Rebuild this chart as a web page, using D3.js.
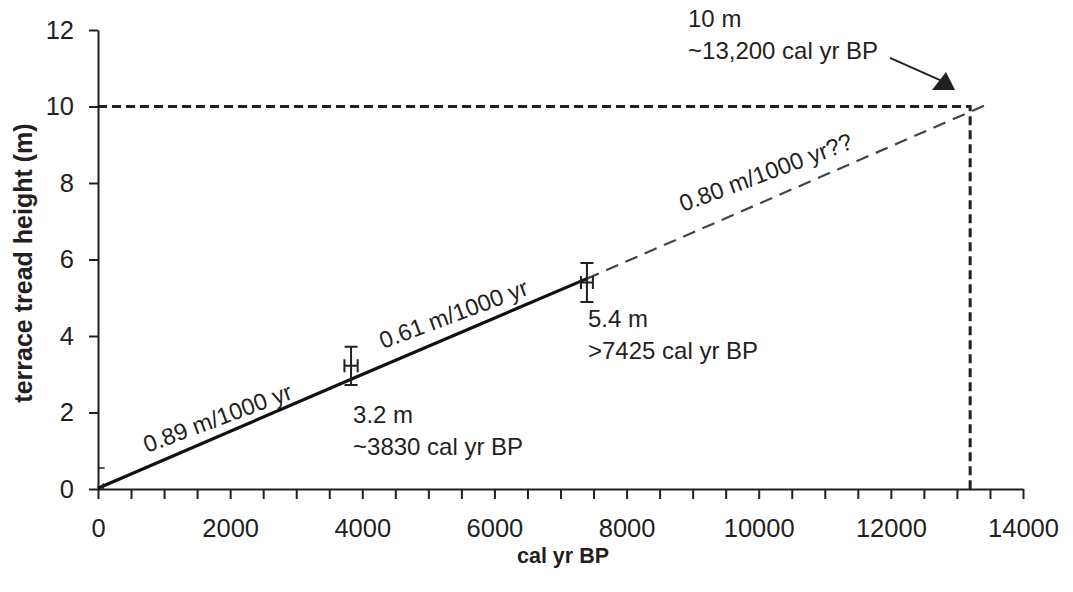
<!DOCTYPE html>
<html>
<head>
<meta charset="utf-8">
<script src="https://cdn.jsdelivr.net/npm/d3@7"></script>
<style>
  body { margin: 0; background: #fff; }
  svg { font-family: "Liberation Sans", Arial, sans-serif; }
</style>
</head>
<body>
<div id="chart"></div>
<script>
// data
var xTicks = [0, 2000, 4000, 6000, 8000, 10000, 12000, 14000];
var xMinor = d3.range(0, 14001, 500);
var yTicks = [0, 2, 4, 6, 8, 10, 12];

var lineYears = [0, 3830, 7400];
var lineHeights = [0.02, 2.87, 5.5];
var extYears = [7400, 13450];
var extHeights = [5.5, 10.05];

var pointYears = [3830, 7400];
var pointHeights = [3.22, 5.4];
var heightErr = [0.5, 0.51];
var yearErr = [100, 90];

var targetYear = 13200, targetHeight = 10;

var rateLabels = ["0.89 m/1000 yr", "0.61 m/1000 yr", "0.80 m/1000 yr??"];
var rateLabelX = [740, 4314, 8854];
var rateLabelY = [0.94, 3.66, 7.24];

var noteLines = [["3.2 m", "~3830 cal yr BP"], ["5.4 m", ">7425 cal yr BP"], ["10 m", "~13,200 cal yr BP"]];
var noteX = [3860, 7416, 8930];
var noteY = [1.73, 4.24, 12.08];

// arrow pointing at the 10 m / 13,200 yr corner
var arrowLine = [[11987, 11.27], [12744, 10.69]];
var arrowHead = [[12623, 10.43], [12971, 10.43], [12835, 10.9]];

var W = 1073, H = 592;
var ink = "#231f20";

var svg = d3.select("#chart")
    .append("svg")
    .attr("width", W)
    .attr("height", H);

var x = d3.scaleLinear().domain([0, 14000]).range([98, 1023]);
var y = d3.scaleLinear().domain([0, 12]).range([489, 30]);

// x axis: ticks every 500, labels every 2000
var xAxis = svg.append("g")
    .attr("transform", "translate(0," + y(0) + ")")
    .call(d3.axisBottom(x)
        .tickValues(xMinor)
        .tickSize(10)
        .tickSizeOuter(0)
        .tickPadding(20)
        .tickFormat(function (d) { return xTicks.indexOf(d) >= 0 ? d : ""; }));

var yAxis = svg.append("g")
    .attr("transform", "translate(" + x(0) + ",0)")
    .call(d3.axisLeft(y)
        .tickValues(yTicks)
        .tickSize(9)
        .tickSizeOuter(0)
        .tickPadding(15));

[xAxis, yAxis].forEach(function (g) {
    g.select(".domain").attr("stroke", ink).attr("stroke-width", 2);
    g.selectAll(".tick line").attr("stroke", ink).attr("stroke-width", 2);
    g.selectAll(".tick text")
        .attr("fill", ink)
        .style("font-size", "25.5px")
        .style("font-family", "Liberation Sans, Arial, sans-serif");
});

// axis titles
svg.append("text")
    .attr("x", 563)
    .attr("y", 563)
    .attr("text-anchor", "middle")
    .attr("fill", ink)
    .style("font-size", "21.5px")
    .style("font-weight", "bold")
    .text("cal yr BP");

svg.append("text")
    .attr("transform", "translate(32," + 263 + ") rotate(-90)")
    .attr("text-anchor", "middle")
    .attr("fill", ink)
    .style("font-size", "25px")
    .style("font-weight", "bold")
    .text("terrace tread height (m)");

// dashed guide lines to the 10 m / 13,200 yr point
svg.append("path")
    .attr("d", d3.line()([
        [x(0), y(targetHeight)],
        [x(targetYear), y(targetHeight)],
        [x(targetYear), y(0)]
    ]))
    .attr("fill", "none")
    .attr("stroke", ink)
    .attr("stroke-width", 3)
    .attr("stroke-dasharray", "9,5");

// extrapolated rate (grey dashed)
var line = d3.line()
    .x(function (d) { return x(d[0]); })
    .y(function (d) { return y(d[1]); });

svg.append("path")
    .attr("d", line(d3.zip(extYears, extHeights)))
    .attr("fill", "none")
    .attr("stroke", "#3a4848")
    .attr("stroke-width", 2.2)
    .attr("stroke-dasharray", "13,8");

// measured rate (solid)
svg.append("path")
    .attr("d", line(d3.zip(lineYears, lineHeights)))
    .attr("fill", "none")
    .attr("stroke", "#111")
    .attr("stroke-width", 3.2);

// small mark at the origin
svg.append("path")
    .attr("d", "M" + x(0) + "," + y(0.55) + "H" + x(100) +
        "M" + x(80) + "," + y(0) + "V" + y(0.15))
    .attr("stroke", ink)
    .attr("stroke-width", 1.5);

// error bars
var eb = svg.selectAll(".eb")
    .data(d3.range(pointYears.length))
    .enter()
    .append("g")
    .attr("class", "eb")
    .attr("stroke", ink)
    .attr("stroke-width", 2)
    .attr("fill", "none");

eb.append("path")
    .attr("d", function (i) {
        var cx = x(pointYears[i]);
        var top = y(pointHeights[i] + heightErr[i]);
        var bot = y(pointHeights[i] - heightErr[i]);
        return "M" + cx + "," + top + "V" + bot +
            "M" + (cx - 6.5) + "," + top + "H" + (cx + 6.5) +
            "M" + (cx - 6.5) + "," + bot + "H" + (cx + 6.5);
    });

eb.append("path")
    .attr("d", function (i) {
        var cy = y(pointHeights[i]);
        var l = x(pointYears[i] - yearErr[i]);
        var r = x(pointYears[i] + yearErr[i]);
        return "M" + l + "," + cy + "H" + r +
            "M" + l + "," + (cy - 6.5) + "V" + (cy + 6.5) +
            "M" + r + "," + (cy - 6.5) + "V" + (cy + 6.5);
    });

// rate labels along the line
svg.selectAll(".rate")
    .data(rateLabels)
    .enter()
    .append("text")
    .attr("class", "rate")
    .attr("transform", function (d, i) {
        return "translate(" + x(rateLabelX[i]) + "," + y(rateLabelY[i]) + ") rotate(-20.5)";
    })
    .attr("fill", ink)
    .style("font-size", "23.5px")
    .text(function (d) { return d; });

// point notes
var notes = svg.selectAll(".note")
    .data(noteLines)
    .enter()
    .append("text")
    .attr("class", "note")
    .attr("fill", ink)
    .style("font-size", "24px");

notes.selectAll("tspan")
    .data(function (d, i) { return d.map(function (s) { return {s: s, i: i}; }); })
    .enter()
    .append("tspan")
    .attr("x", function (d) { return x(noteX[d.i]); })
    .attr("y", function (d, j) { return y(noteY[d.i]) + j * 32; })
    .text(function (d) { return d.s; });

// arrow
svg.append("path")
    .attr("d", line(arrowLine))
    .attr("stroke", ink)
    .attr("stroke-width", 2)
    .attr("fill", "none");

svg.append("path")
    .attr("d", line(arrowHead) + "Z")
    .attr("fill", ink);
</script>
</body>
</html>
